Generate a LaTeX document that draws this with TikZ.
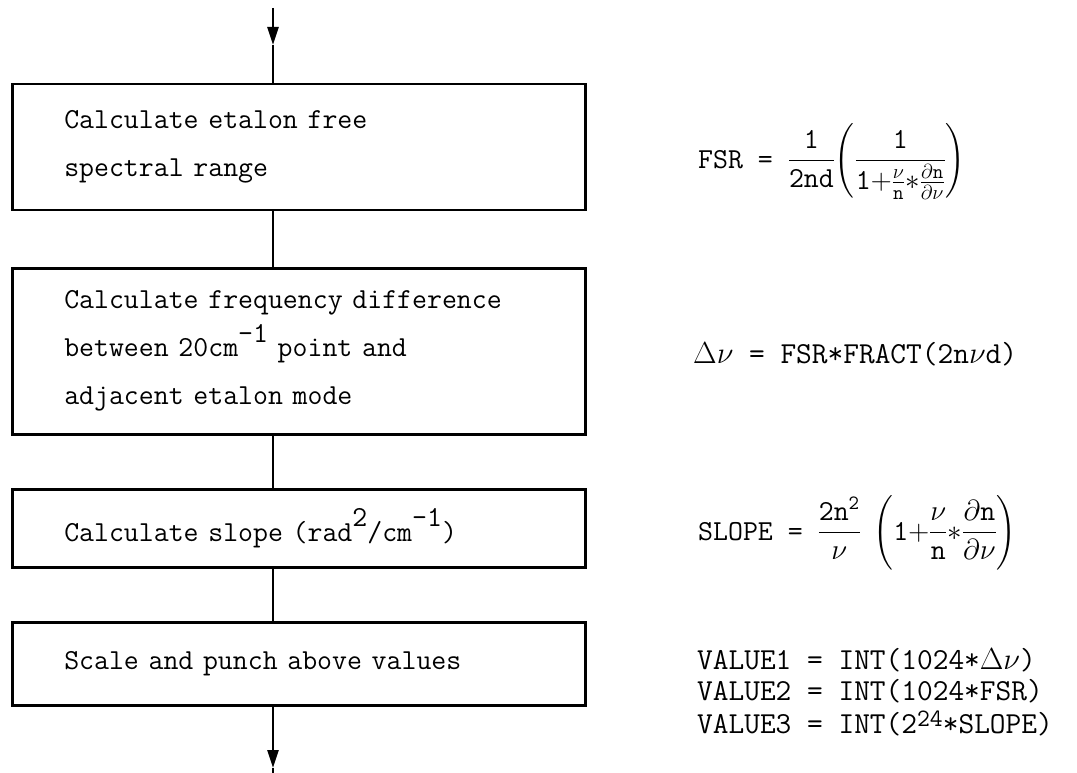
\RequirePackage{fix-cm}
\documentclass[tikz,border=0pt]{standalone}
\usepackage{amsmath}
\usetikzlibrary{arrows.meta}
\newcommand\bt{\fontsize{29}{48}\selectfont\ttfamily}
\newcommand\ft{\fontsize{30.5}{31}\selectfont\ttfamily}
\newcommand\mt{\fontsize{29}{31}\selectfont\ttfamily}
\newcommand\upr[1]{\raisebox{0.5em}{#1}}
\newcommand\lowsup[1]{\raisebox{0.22em}{\fontsize{25}{25}\selectfont #1}}
\tikzset{
  box/.style={draw, line width=2.5pt, anchor=north west, text width=469pt,
    inner xsep=52pt, inner ysep=0pt, align=left, font=\bt, minimum width=573pt},
  flow/.style={line width=2.5pt},
  tip/.style={-{Triangle[length=18pt,width=11pt]}},
  formula/.style={anchor=base west, inner sep=0pt, font=\ft},
  mathformula/.style={anchor=base west, inner sep=0pt, font=\mt},
}
\begin{document}
\begin{tikzpicture}[x=1pt,y=-1pt]
\useasboundingbox (0,0) rectangle (1077,773);
% boxes
\node[box, minimum height=126pt] (b1) at (11,83) {Calculate etalon free\\spectral range};
\node[box, minimum height=166pt] (b2) at (11,267) {Calculate frequency difference\\between 20cm\upr{-1} point and\\adjacent etalon mode};
\node[box, minimum height=78pt] (b3) at (11,488) {Calculate slope (rad\upr{2}/cm\upr{-1})};
\node[box, minimum height=83pt] (b4) at (11,621) {Scale and punch above values};
% connectors
\coordinate (top) at (273,8);
\coordinate (tipA) at (273,45);
\coordinate (tipB) at (273,768);
\coordinate (bot) at (273,773);
\draw[flow,tip] (top) -- (tipA);
\draw[flow] (tipA) -- (tipA |- b1.north);
\draw[flow] (b1.south -| top) -- (b2.north -| top);
\draw[flow] (b2.south -| top) -- (b3.north -| top);
\draw[flow] (b3.south -| top) -- (b4.north -| top);
\draw[flow,tip] (b4.south -| top) -- (tipB);
\draw[flow] (tipB) -- (bot);
% formulas
\node[mathformula] (fsr) at (698,168) {FSR = $\displaystyle\frac{\mathtt{1}}{\mathtt{2nd}}\!\left(\frac{\mathtt{1}}{\mathtt{1}{+}\frac{\nu}{\mathtt{n}}{*}\frac{\partial\mathtt{n}}{\partial\nu}}\right)$};
\node[formula] (dnu) at (693,363) {$\Delta\nu$ = FSR*FRACT(2n$\nu$d)};
\node[mathformula] (slope) at (698,540) {SLOPE = $\displaystyle\frac{\mathtt{2n}^{\mathtt{2}}}{\nu}\;\left(\mathtt{1}{+}\frac{\nu}{\mathtt{n}}{*}\frac{\partial\mathtt{n}}{\partial\nu}\right)$};
\node[formula] (v1) at (697,669) {VALUE1 = INT(1024*$\Delta\nu$)};
\node[formula] (v2) at (697,700) {VALUE2 = INT(1024*FSR)};
\node[formula] (v3) at (697,733) {VALUE3 = INT(2\lowsup{24}*SLOPE)};
\end{tikzpicture}
\end{document}
